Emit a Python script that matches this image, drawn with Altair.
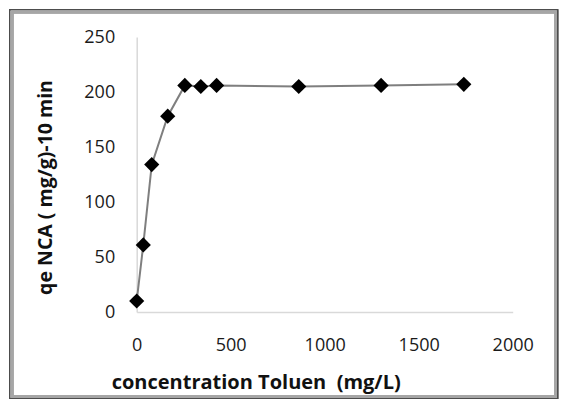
import altair as alt
import pandas as pd

conc = [0, 35, 80, 165, 256, 341, 425, 862, 1300, 1740]
qe = [10, 61, 134, 178, 206, 205, 206, 205, 206, 207]

df = pd.DataFrame({"conc": conc, "qe": qe})

FONT = "Open Sans"
W, H = 376, 275
PL, PT = 128.7, 29
TOTW, TOTH = 551, 391

x = alt.X("conc:Q", scale=alt.Scale(domain=[0, 2000], nice=False),
          axis=alt.Axis(values=[0, 500, 1000, 1500, 2000], format="d", grid=False, ticks=False,
                        labelFlush=False,
                        domainColor="#d9d9d9", domainWidth=1.5,
                        labelFont=FONT, labelFontSize=18, labelColor="#1a1a1a", labelPadding=24,
                        title="concentration Toluen\u00a0 (mg/L)", titleFont=FONT, titleFontSize=20,
                        titleFontWeight="bold", titleColor="#111",
                        titleX=119, titleY=70, titleAlign="center", titleBaseline="middle"))
y = alt.Y("qe:Q", scale=alt.Scale(domain=[0, 250], nice=False),
          axis=alt.Axis(values=[0, 50, 100, 150, 200, 250], format="d", grid=False, ticks=False,
                        labelFlush=False,
                        domainColor="#d9d9d9", domainWidth=1.5,
                        labelFont=FONT, labelFontSize=18, labelColor="#1a1a1a", labelPadding=22,
                        title="qe NCA ( mg/g)-10 min", titleFont=FONT, titleFontSize=19.5,
                        titleFontWeight="bold", titleColor="#111",
                        titleX=-91, titleY=150, titleAlign="center", titleBaseline="middle",
                        titleAngle=270))

line = alt.Chart(df).mark_line(color="#7f7f7f", strokeWidth=2).encode(x=x, y=y)
pts = alt.Chart(df).mark_point(shape="diamond", filled=True, color="black", size=230, opacity=1).encode(x=x, y=y)

border_outer = alt.Chart(df).mark_rect(fill=None, stroke="#4d4d4d", strokeWidth=1.2).encode(
    x=alt.value(9.8 - PL - 8), x2=alt.value(557.5 - PL - 8),
    y=alt.value(9.8 - PT - 8), y2=alt.value(398.5 - PT - 8))
border_inner = alt.Chart(df).mark_rect(fill=None, stroke="#a6a6a6", strokeWidth=2.5).encode(
    x=alt.value(12 - PL - 8), x2=alt.value(555.5 - PL - 8),
    y=alt.value(12 - PT - 8), y2=alt.value(396.5 - PT - 8))

chart = alt.layer(border_outer, border_inner, line, pts).properties(
    width=W, height=H,
    background="white",
    autosize=alt.AutoSizeParams(type="none"),
    padding={"left": PL, "top": PT, "right": TOTW - PL - W, "bottom": TOTH - PT - H},
).configure_view(stroke=None)

chart.save("out.html", embed_options={"renderer": "svg", "actions": False})
